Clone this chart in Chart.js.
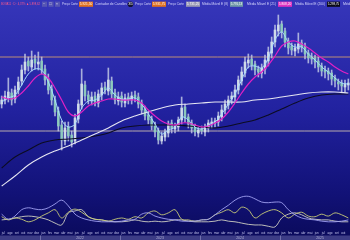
<!DOCTYPE html>
<html><head><meta charset="utf-8">
<script src="https://cdn.jsdelivr.net/npm/chart.js@4"></script>
<style>html,body{margin:0;padding:0;background:#0a0a58;overflow:hidden}canvas{display:block}</style>
</head><body>
<canvas id="c" width="350" height="240"></canvas>
<script>
// ---- data (semi-monthly candles starting Jul 2021) ----
const opens=[33.6,34.0,34.2,34.7,34.1,35.0,35.9,37.0,37.9,37.3,
38.1,37.6,37.9,37.1,36.1,35.1,34.0,32.9,31.5,29.9,
31.3,30.5,29.9,32.1,33.5,35.5,34.5,33.9,34.4,33.7,
34.5,35.3,34.9,35.9,34.7,33.9,34.4,33.7,34.3,34.0,
34.5,34.3,33.7,33.1,32.5,32.1,31.5,30.9,29.9,30.3,
30.7,31.7,31.1,31.3,32.0,33.3,32.3,31.7,31.3,30.7,
31.1,30.8,31.2,31.6,31.7,31.8,32.3,33.0,33.5,34.1,
34.3,35.0,35.9,36.7,37.7,38.1,37.6,37.1,36.7,37.1,
37.9,38.7,39.8,40.9,41.6,40.9,39.9,39.4,38.9,39.1,
39.7,39.4,38.7,38.3,38.2,37.9,37.4,37.0,36.9,36.7,
36.2,35.8,35.7,35.3,35.5];
const highs=[34.4,34.9,36.2,35.1,35.4,36.3,37.5,38.6,38.3,38.9,
38.5,38.8,38.3,37.5,36.6,35.5,34.4,33.3,31.9,31.8,
31.8,30.9,32.6,34.0,37.1,35.9,34.9,34.8,34.8,35.0,
35.7,35.8,37.2,36.3,35.1,34.8,34.8,34.6,34.7,34.8,
34.9,34.7,34.0,33.4,32.8,32.4,31.8,31.2,30.8,31.1,
31.9,32.0,31.7,32.3,34.3,33.6,32.6,32.0,31.6,31.3,
31.4,31.6,32.0,32.2,32.2,32.8,33.5,34.0,34.4,34.8,
35.5,36.4,37.3,38.3,38.6,38.5,37.9,37.4,37.6,38.5,
39.3,40.3,41.5,42.5,41.9,41.2,40.2,39.7,39.6,40.7,
40.0,39.7,39.0,38.7,38.5,38.3,37.7,37.4,37.2,37.0,
36.5,36.1,36.0,36.0,36.1];
const lows=[33.2,33.6,33.8,33.5,33.7,34.6,35.5,36.6,36.9,36.9,
37.1,37.0,36.6,35.5,34.6,33.5,32.4,30.9,29.0,29.5,
29.9,29.3,29.6,31.7,33.1,33.9,33.6,33.5,33.4,33.3,
34.0,34.6,34.5,34.2,33.6,33.5,33.3,33.3,33.6,33.6,
33.8,33.2,32.6,32.0,31.6,31.0,30.3,29.6,29.6,29.9,
30.3,30.7,30.7,30.9,31.6,31.8,31.2,30.7,30.4,30.3,
30.6,30.4,30.8,31.2,31.3,31.4,31.9,32.6,33.1,33.6,
33.9,34.6,35.5,36.3,37.2,37.0,36.5,36.3,36.2,36.6,
37.4,38.2,39.3,40.4,40.2,39.3,38.6,38.5,38.4,38.7,
38.8,38.1,37.7,37.6,37.2,36.8,36.4,36.2,36.0,35.5,
35.3,35.0,34.7,34.8,35.0];
const closes=[34.0,34.4,34.8,34.0,35.0,35.8,37.0,37.8,37.4,38.0,
37.7,37.8,37.0,36.0,35.0,34.0,32.8,31.4,30.0,31.2,
30.4,29.8,32.2,33.6,35.6,34.4,34.0,34.3,33.8,34.6,
35.2,35.0,36.0,34.6,34.0,34.3,33.8,34.2,34.0,34.4,
34.2,33.6,33.0,32.4,32.0,31.4,30.8,30.0,30.4,30.8,
31.6,31.2,31.4,32.0,33.2,32.2,31.6,31.2,30.8,31.0,
30.9,31.3,31.7,31.8,31.9,32.4,33.0,33.6,34.0,34.4,
35.0,36.0,36.8,37.8,38.0,37.5,37.0,36.8,37.2,38.0,
38.8,39.8,41.0,41.5,40.8,39.8,39.2,39.0,39.2,39.6,
39.3,38.6,38.2,38.1,37.8,37.3,36.9,36.8,36.6,36.1,
35.9,35.6,35.4,35.6,35.7];
// moving averages (one value every 2nd candle)
const ema8=[33.8,34.2,34.5,35.5,36.6,37.1,37.0,35.8,34.0,32.0,31.3,31.6,33.2,33.9,34.0,34.5,35.2,34.5,34.1,34.1,34.2,33.6,32.6,31.6,30.6,31.0,31.3,32.3,32.0,31.3,31.1,31.5,31.8,32.6,33.6,34.6,36.0,37.3,37.4,37.2,38.2,40.0,40.8,39.8,39.3,39.3,38.6,38.0,37.3,36.8,36.2,35.7,35.6];
const ema21=[34.3,34.1,34.2,34.7,35.4,36.2,36.6,36.2,35.2,34.0,32.8,32.4,32.8,33.4,33.7,33.9,34.1,34.1,34.0,34.0,34.0,33.7,33.0,32.4,31.9,31.6,31.5,31.7,31.7,31.5,31.3,31.4,31.7,32.1,32.8,33.7,34.7,35.6,36.3,36.8,37.5,38.4,39.4,39.8,39.9,39.6,39.2,38.7,38.2,37.8,37.3,36.9,36.6];
// long averages (one value every 4th candle)
const maLongWhite=[25.4,26.4,27.5,28.3,28.9,29.4,30.0,30.6,31.2,31.9,32.4,32.8,33.2,33.5,33.6,33.7,33.8,33.8,33.8,34.0,34.1,34.3,34.5,34.7,34.8,34.8,34.7];
const maLongBlack=[27.2,28.3,29.0,29.7,30.0,30.1,30.2,30.4,30.7,31.2,31.4,31.5,31.5,31.5,31.4,31.3,31.2,31.4,31.7,32.0,32.5,33.1,33.7,34.2,34.5,34.6,34.6];
// lower indicator (one value every 2nd candle)
const oscA=[28,20,25,35,38,36,35,38,44,50,41,28,22,19,17,16,16,16,17,19,20,28,30,25,22,20,19,17,17,17,19,20,27,35,42,50,55,56,52,47,46,47,46,35,27,22,20,19,17,16,16,17,19];
const oscB=[24,19,22,20,16,19,25,30,35,22,31,36,31,24,20,19,17,20,22,20,24,22,30,33,27,30,35,20,19,17,19,20,27,31,35,30,39,35,22,28,33,35,30,22,28,31,25,24,28,25,30,27,22];
const oscC=[19,20,22,24,25,24,22,19,14,11,30,33,35,24,20,19,17,16,16,17,19,17,16,17,16,17,19,19,17,16,16,16,17,19,17,16,14,12,11,11,9,8,22,28,30,27,22,20,19,19,17,16,16];
const levels=[38.3,30.9];
const monthLabels=['jul','ago','set','out','nov','dez',
 'jan','fev','mar','abr','mai','jun','jul','ago','set','out','nov','dez',
 'jan','fev','mar','abr','mai','jun','jul','ago','set','out','nov','dez',
 'jan','fev','mar','abr','mai','jun','jul','ago','set','out','nov','dez',
 'jan','fev','mar','abr','mai','jun','jul','ago','set','out','nov','dez'];
const yearLabels=['2022','2023','2024','2025'];

// ---- build ----
const START=0.25, STEP=0.5; // x axis in months since Jul 2021
const cx=i=>START+i*STEP;
const UP='rgba(214,226,236,0.88)', DOWN='rgba(140,206,186,0.88)';
const wick=highs.map((h,i)=>({x:cx(i),y:[lows[i],h]}));
const body=opens.map((o,i)=>({x:cx(i),y:[o,closes[i]]}));
const bodyCol=opens.map((o,i)=>closes[i]>=o?UP:DOWN);
const series=(arr,every)=>arr.map((v,k)=>({x:cx(k*every),y:v}));
const XMAX=52.5;
const lvl=v=>[{x:0,y:v},{x:XMAX,y:v}];

const lineDs=(data,color,axis,order,w)=>({type:'line',data,borderColor:color,borderWidth:w||1,pointRadius:0,tension:0.35,yAxisID:axis,order,fill:false});

const bg={id:'bg',
 beforeDraw(ch){const c=ch.ctx;const g=c.createLinearGradient(0,0,0,240);
  g.addColorStop(0,'#3636ba');g.addColorStop(0.45,'#2222a0');g.addColorStop(0.8,'#121278');g.addColorStop(1,'#0a0a5a');
  c.save();c.fillStyle=g;c.fillRect(0,0,350,240);c.restore();},
 afterDraw(ch){const c=ch.ctx;const xs=ch.scales.x;c.save();
  // bottom axis
  c.font='3px "Liberation Sans"';c.textAlign='center';c.textBaseline='middle';c.fillStyle='#c8c8f0';
  monthLabels.forEach((m,k)=>{const px=xs.getPixelForValue(k+0.5);if(px<349)c.fillText(m,px,233.6);});
  c.fillStyle='#3c3c86';c.fillRect(0,235.5,350,4.5);
  c.strokeStyle='#7e7eb8';c.lineWidth=0.8;
  yearLabels.forEach((y,k)=>{const px=Math.round(xs.getPixelForValue(6+12*k))+0.5;c.beginPath();c.moveTo(px,235.5);c.lineTo(px,240);c.stroke();});
  c.font='3.4px "Liberation Sans"';c.fillStyle='#b8b8dc';
  yearLabels.forEach((y,k)=>{c.fillText(y,xs.getPixelForValue(12+12*k),237.9);});
  // header
  c.textAlign='left';c.font='4px "Liberation Sans"';
  const T=(s,x,w,col)=>{c.fillStyle=col||'#d8d8ff';c.fillText(s,x,4.3,w);};
  const B=(s,x,w,bgc,fg)=>{c.fillStyle=bgc;c.fillRect(x,1.6,w,5.2);c.fillStyle=fg||'#ffffff';c.fillText(s,x+0.8,4.3,w-1.6);};
  T('BOVA11 · D · 4,37% ▲ 5.898,62',1,39,'#ff5a8c');
  B('−',42,5,'#5656b4','#dde');B('□',48.5,5,'#5656b4','#dde');B('×',55,5,'#5656b4','#dde');
  T('Preço Corte',62,16);B('5.921,50',79,14,'#e0701e');
  T('Contador de Candles',95,32);
  c.fillStyle='#121230';c.beginPath();c.arc(130.5,4.2,2.8,0,Math.PI*2);c.fill();c.fillStyle='#fff';c.textAlign='center';c.fillText('35',130.5,4.3,4.6);c.textAlign='left';
  T('Preço Corte',135,16);B('5.931,75',152,14,'#e0701e');
  T('Preço Corte',168,16);B('5.731,25',186,14,'#9a9ab4');
  T('Média Móvel E (8)',202,26);B('5.776,13',230,13,'#6f98a8');
  T('Média Móvel E (21)',247,29);B('5.808,20',278,14,'#e030c0');
  T('Média Móvel E (200)',295,30);B('5.298,75',327,13,'#0a0a18');
  T('Méd',343,7);
  c.restore();}
};

new Chart(document.getElementById('c').getContext('2d'),{
 type:'bar',
 data:{datasets:[
  lineDs(lvl(levels[0]),'rgba(214,160,110,0.85)','y',8,1),
  lineDs(lvl(levels[1]),'rgba(222,206,178,0.8)','y',8,1),
  {type:'bar',data:wick,backgroundColor:'rgba(190,198,228,0.85)',barThickness:1,grouped:false,borderWidth:0,order:6,yAxisID:'y'},
  {type:'bar',data:body,backgroundColor:bodyCol,barThickness:2,minBarLength:1,grouped:false,borderWidth:0,order:5,yAxisID:'y'},
  lineDs(series(maLongWhite,4),'#e6e6f2','y',2,1.1),
  lineDs(series(maLongBlack,4),'#0c0c22','y',2,1.1),
  lineDs(series(ema21,2),'#e020c4','y',1,1.2),
  lineDs(series(ema8,2),'#a8dcff','y',1,1),
  lineDs(series(oscA,2),'#a0a0f2','y2',3,0.9),
  lineDs(series(oscB,2),'#c8cc78','y2',3,0.9),
  lineDs(series(oscC,2),'#cfcfc2','y2',3,0.9)
 ]},
 options:{responsive:false,animation:false,devicePixelRatio:1,
  layout:{padding:{top:9,bottom:8,left:0,right:0}},
  plugins:{legend:{display:false},tooltip:{enabled:false}},
  scales:{
   x:{type:'linear',min:0,max:XMAX,offset:false,display:false},
   y:{type:'linear',min:20.8,max:43.1,display:false},
   y2:{type:'linear',min:0,max:350,display:false}
  }},
 plugins:[bg]
});
</script>
</body></html>
